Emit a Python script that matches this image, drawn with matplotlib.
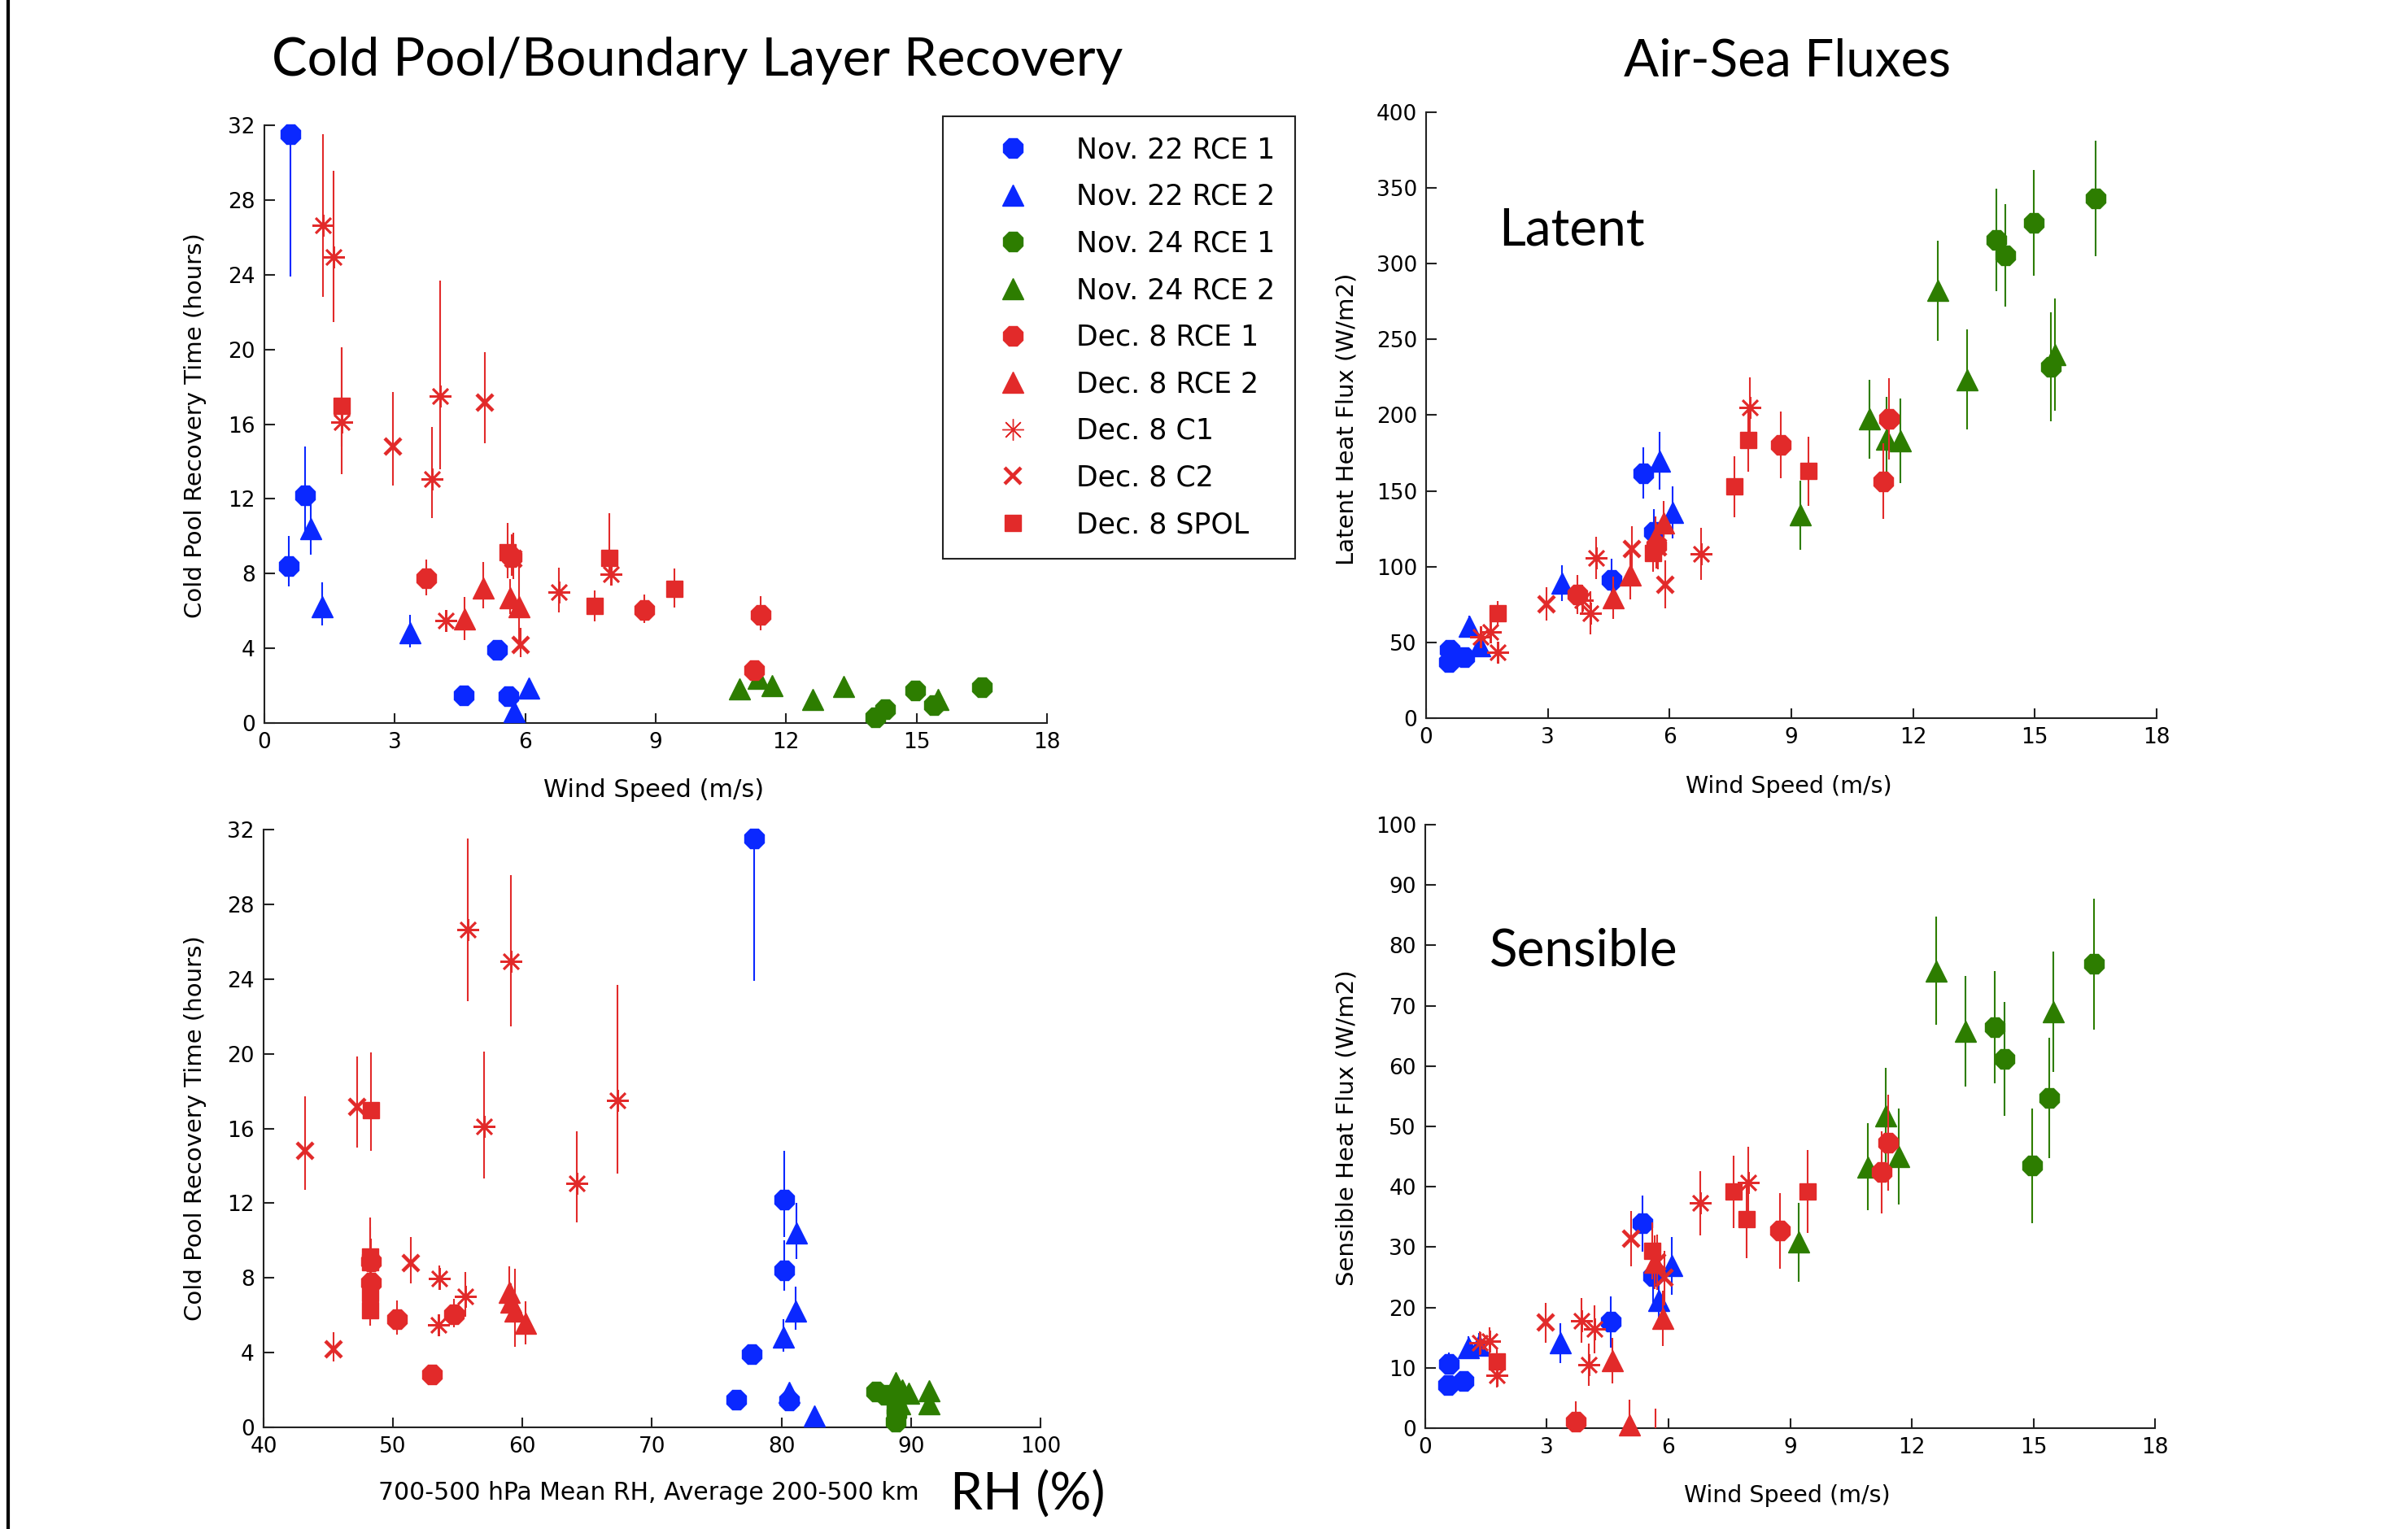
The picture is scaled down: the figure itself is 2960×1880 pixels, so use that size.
import numpy as np
import matplotlib
matplotlib.use('Agg')
import matplotlib.pyplot as plt
from matplotlib.lines import Line2D

nan = np.nan

labels = ['Nov. 22 RCE 1', 'Nov. 22 RCE 2', 'Nov. 24 RCE 1', 'Nov. 24 RCE 2',
          'Dec. 8 RCE 1', 'Dec. 8 RCE 2', 'Dec. 8 C1', 'Dec. 8 C2', 'Dec. 8 SPOL']
colors = ['#0a28ff', '#0a28ff', '#2d7d00', '#2d7d00',
          '#e22a2a', '#e22a2a', '#e22a2a', '#e22a2a', '#e22a2a']
markers = ['8', '^', '8', '^', '8', '^', (8, 2, 0), 'x', 's']

# wind speed (m/s), one list per series
wind = [[0.56, 0.59, 0.94, 4.58, 5.36, 5.62],
        [1.06, 1.32, 3.34, 5.75, 6.08],
        [14.05, 14.28, 14.97, 15.4, 16.5],
        [9.22, 10.92, 11.35, 11.68, 12.61, 13.33, 15.49],
        [3.72, 5.68, 8.74, 11.26, 11.41],
        [4.61, 5.04, 5.65, 5.86],
        [1.35, 1.59, 1.77, 3.85, 4.04, 4.18, 6.78, 7.97],
        [2.96, 5.07, 5.72, 5.9],
        [1.77, 5.6, 7.6, 7.93, 9.43]]

# cold pool recovery time (hours) and its lower / upper error
trec = [[8.41, 31.5, 12.19, 1.48, 3.92, 1.44],
        [10.41, 6.22, 4.83, 0.61, 1.88],
        [0.32, 0.76, 1.76, 0.94, 1.9],
        [nan, 1.83, 2.39, 1.99, 1.28, 1.94, 1.28],
        [7.74, 8.9, 6.07, 2.84, 5.78],
        [5.56, 7.23, 6.72, 6.21],
        [26.63, 24.96, 16.13, 13.06, 17.49, 5.49, 7.02, 7.96],
        [14.8, 17.16, 8.8, 4.18],
        [16.99, 9.13, 6.26, 8.83, 7.19]]
trec_lo = [[1.1, 7.6, 2.0, 0.2, 0.3, 0.2],
           [1.4, 1.0, 0.8, 0.2, 0.2],
           [0.15, 0.15, 0.15, 0.15, 0.15],
           [nan, 0.2, 0.2, 0.2, 0.2, 0.2, 0.2],
           [0.9, 1.0, 0.7, 0.2, 0.8],
           [1.1, 1.1, 0.9, 1.9],
           [3.8, 3.5, 2.8, 2.1, 3.9, 0.4, 1.1, 0.6],
           [2.1, 2.2, 1.1, 0.65],
           [2.2, 1.4, 0.8, 1.0, 1.0]]
trec_hi = [[1.6, 7.6, 2.6, 0.2, 0.3, 0.2],
           [1.6, 1.3, 0.95, 0.2, 0.2],
           [0.15, 0.15, 0.15, 0.15, 0.15],
           [nan, 0.2, 0.2, 0.2, 0.2, 0.2, 0.2],
           [1.0, 1.2, 0.8, 0.2, 1.0],
           [1.2, 1.4, 1.0, 2.3],
           [4.9, 4.6, 4.0, 2.8, 6.2, 0.4, 1.3, 0.7],
           [2.9, 2.7, 1.4, 0.9],
           [3.1, 1.6, 0.85, 2.4, 1.1]]

# 700-500 hPa mean RH (%), average 200-500 km
rh = [[80.2, 77.9, 80.2, 76.5, 77.7, 80.6],
      [81.15, 81.06, 80.16, 82.56, 80.56],
      [88.8, 88.9, 88.0, 88.9, 87.3],
      [nan, 89.8, 88.8, 89.3, 89.1, 91.4, 91.4],
      [48.3, 48.3, 54.7, 53.0, 50.3],
      [60.2, 58.95, 59.1, 59.4],
      [55.8, 59.1, 57.0, 64.2, 67.3, 53.5, 55.6, 53.6],
      [43.2, 47.2, 51.4, 45.4],
      [48.3, 48.2, 48.2, 48.2, 48.2]]

# latent heat flux (W/m2)
lhf = [[37, 45, 40.5, 91.4, 161.7, 122.8],
       [60.6, 48, 89.2, 169.8, 135.8],
       [315.7, 305.5, 327, 232.1, 343],
       [134, 197.5, 184.1, 183.2, 282.3, 223.4, 239.8],
       [81.7, 114, 180.5, 156.3, 197.5],
       [79.4, 94.6, 119, 128.6],
       [53.8, 57.0, 43.6, 78.0, 69.5, 105.9, 108.5, 205.2],
       [75.2, 111.6, 113, 88.3],
       [69.5, 108.9, 152.8, 183.6, 163.0]]
lhf_err = [[5, 6, 5, 14, 17, 15],
           [7, 7, 12, 19, 17],
           [34, 34, 35, 36, 38],
           [23, 26, 28, 28, 33, 33, 37],
           [13, 15, 22, 25, 27],
           [14, 16, 14, 15],
           [6, 6, 7, 10, 14, 14, 17, 20],
           [11, 15, 15, 16],
           [8, 12, 20, 21, 23]]

# sensible heat flux (W/m2)
shf = [[7.2, 10.7, 7.8, 17.6, 33.9, 25.2],
       [13.4, 13.8, 14.1, 21.1, 26.9],
       [66.5, 61.2, 43.5, 54.7, 76.9],
       [30.8, 43.3, 51.8, 45.0, 75.8, 65.8, 69.0],
       [1.1, -1.5, 32.7, 42.4, 47.3],
       [11.2, 0.6, 27.5, 18.2],
       [14.1, 14.4, 8.7, 17.85, 10.5, 16.4, 37.3, 40.7],
       [17.5, 31.4, 27.5, 24.9],
       [11.0, 29.4, 39.2, 34.6, 39.2]]
shf_err = [[1.2, 1.8, 1.4, 4.2, 4.6, 4.5],
           [1.8, 2.0, 3.3, 4.3, 4.8],
           [9.3, 9.4, 9.5, 10.0, 10.8],
           [6.5, 7.2, 7.9, 7.9, 9.0, 9.2, 10.0],
           [3.3, 4.8, 6.3, 6.8, 8.0],
           [3.8, 4.1, 4.5, 4.6],
           [2.0, 2.3, 2.0, 3.7, 3.5, 4.0, 5.3, 5.9],
           [3.3, 4.6, 4.6, 4.5],
           [2.4, 4.7, 6.0, 6.5, 6.9]]

plt.rcParams['font.family'] = 'DejaVu Sans'
title_font = 'Lato'

msize = {'8': 19, '^': 19, 'x': 15, 's': 15}


def marker_style(m, legend=False):
    if m == 'x':
        return dict(ms=15, mew=3.2)
    if isinstance(m, tuple):
        return dict(ms=19, mew=1.0 if legend else 1.9)
    return dict(ms=msize[m], mew=1)


def draw(ax, xs, ys, lo, hi, ylim):
    for i in range(len(labels)):
        x = np.array(xs[i], float)
        y = np.array(ys[i], float)
        el = np.array(lo[i], float)
        eh = np.array(hi[i], float)
        ok = ~np.isnan(x) & ~np.isnan(y)
        ax.errorbar(x[ok], y[ok], yerr=[el[ok], eh[ok]], fmt='none',
                    ecolor=colors[i], elinewidth=1.5, capsize=0, zorder=2 + 2 * i)
        inside = ok & (y >= ylim[0]) & (y <= ylim[1])
        ax.plot(x[inside], y[inside], ls='none', marker=markers[i],
                color=colors[i], mec=colors[i], clip_on=False,
                zorder=3 + 2 * i, **marker_style(markers[i]))


def style(ax, xlim, xticks, ylim, yticks):
    ax.set_xlim(xlim)
    ax.set_ylim(ylim)
    ax.set_xticks(xticks)
    ax.set_yticks(yticks)
    for s in ['top', 'right']:
        ax.spines[s].set_visible(False)
    for s in ['left', 'bottom']:
        ax.spines[s].set_linewidth(1.5)
        ax.spines[s].set_color('#222222')
    ax.tick_params(direction='in', length=9, width=1.5, labelsize=19, pad=8,
                   color='#222222')


W, H = 2960, 1880
fig = plt.figure(figsize=(W / 100, H / 100), dpi=100)


def box(l, r, t, b):
    return [l / W, 1 - b / H, (r - l) / W, (b - t) / H]


ax_tl = fig.add_axes(box(325, 1287, 154, 889))
ax_tr = fig.add_axes(box(1753, 2651, 138, 883))
ax_bl = fig.add_axes(box(324, 1279, 1020, 1755))
ax_br = fig.add_axes(box(1752, 2649, 1014, 1756))

draw(ax_tl, wind, trec, trec_lo, trec_hi, (0, 32))
style(ax_tl, (0, 18), range(0, 19, 3), (0, 32), range(0, 33, 4))

draw(ax_tr, wind, lhf, lhf_err, lhf_err, (0, 400))
style(ax_tr, (0, 18), range(0, 19, 3), (0, 400), range(0, 401, 50))

draw(ax_bl, rh, trec, trec_lo, trec_hi, (0, 32))
style(ax_bl, (40, 100), range(40, 101, 10), (0, 32), range(0, 33, 4))

draw(ax_br, wind, shf, shf_err, shf_err, (0, 100))
style(ax_br, (0, 18), range(0, 19, 3), (0, 100), range(0, 101, 10))

# legend
handles = [Line2D([], [], ls='none', marker=markers[i], color=colors[i],
                  mec=colors[i], **marker_style(markers[i], legend=True))
           for i in range(len(labels))]
leg = fig.legend(handles, labels, loc='upper left',
                 bbox_to_anchor=(1159 / W, 1 - 143 / H), fontsize=25,
                 frameon=True, fancybox=False, edgecolor='#222222', framealpha=1,
                 borderpad=0.7, handlelength=3.55, handletextpad=0.47,
                 labelspacing=0.68, borderaxespad=0)
leg.get_frame().set_linewidth(1.5)

# labels
fig.text(804 / W, 1 - 972 / H, 'Wind Speed (m/s)', ha='center', va='center', fontsize=22)
fig.text(2199 / W, 1 - 967 / H, 'Wind Speed (m/s)', ha='center', va='center', fontsize=20.5)
fig.text(2197 / W, 1 - 1839 / H, 'Wind Speed (m/s)', ha='center', va='center', fontsize=20.5)
fig.text(240 / W, 1 - 523 / H, 'Cold Pool Recovery Time (hours)', ha='center', va='center',
         rotation=90, fontsize=21)
fig.text(240 / W, 1 - 1387 / H, 'Cold Pool Recovery Time (hours)', ha='center', va='center',
         rotation=90, fontsize=21)
fig.text(1656 / W, 1 - 515 / H, 'Latent Heat Flux (W/m2)', ha='center', va='center',
         rotation=90, fontsize=21)
fig.text(1656 / W, 1 - 1387 / H, 'Sensible Heat Flux (W/m2)', ha='center', va='center',
         rotation=90, fontsize=21)
fig.text(797 / W, 1 - 1835 / H, '700-500 hPa Mean RH, Average 200-500 km',
         ha='center', va='center', fontsize=21.5)
fig.text(1263 / W, 1 - 1838 / H, 'RH (%)', ha='center', va='center',
         fontsize=46, family=title_font)

fig.text(857 / W, 1 - 74 / H, 'Cold Pool/Boundary Layer Recovery', ha='center', va='center',
         fontsize=47, family=title_font)
fig.text(2197 / W, 1 - 75 / H, 'Air-Sea Fluxes', ha='center', va='center',
         fontsize=46, family=title_font)
fig.text(1932 / W, 1 - 283 / H, 'Latent', ha='center', va='center',
         fontsize=46, family=title_font)
fig.text(1947 / W, 1 - 1170 / H, 'Sensible', ha='center', va='center',
         fontsize=46, family=title_font)

# slide border on the left
fig.add_artist(Line2D([10 / W, 10 / W], [0, 1], transform=fig.transFigure,
                      color='black', lw=3))

fig.savefig('out.png', dpi=100)
